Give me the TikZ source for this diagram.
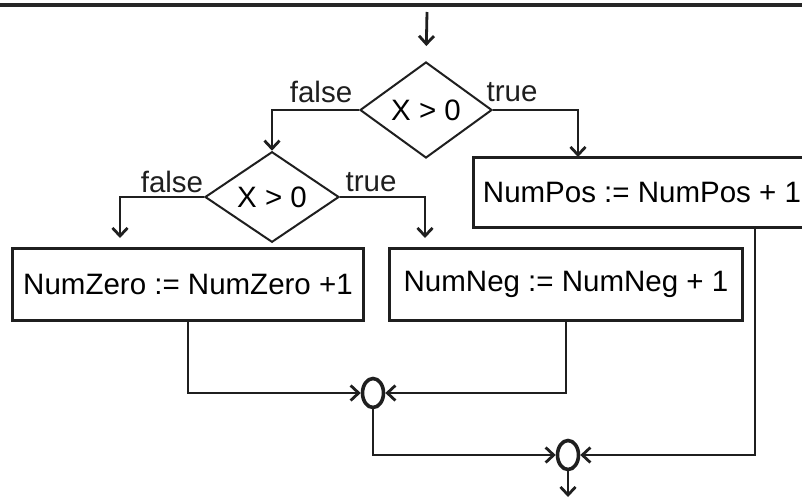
\documentclass[tikz,border=0pt]{standalone}
\usepackage{fontspec}
\setmainfont{Liberation Sans}
\usetikzlibrary{arrows.meta,shapes.geometric}
\begin{document}
\begin{tikzpicture}[x=1pt,y=-1pt,
  ink/.style={draw=black!88},
  label font/.style={font=\fontsize{29.5}{32}\selectfont},
  procbox/.style={ink,rectangle,line width=3pt,inner sep=0pt,label font},
  test/.style={ink,diamond,line width=2pt,inner sep=0pt,label font},
  junction/.style={ink,ellipse,line width=3.6pt,minimum width=21pt,minimum height=29pt,inner sep=0pt},
  branch/.style={label font,inner sep=0pt,text=black!88},
  flow/.style={ink,line width=2.8pt,-{Straight Barb[length=8pt,width=15pt,line width=2.8pt]}},
  wire/.style={ink,line width=2.8pt}]
\clip (0,0) rectangle (802,503);
\fill[white] (0,0) rectangle (802,503);

% rule across the top
\draw[black!85,line width=4.5pt] (0,5) -- (802,5);

% decisions
\node[test,minimum width=132pt,minimum height=96pt] (d1) at (426,110) {X > 0};
\node[test,minimum width=134pt,minimum height=78pt] (d2) at (272,197) {X > 0};

% assignments
\node[procbox,minimum width=338pt,minimum height=70pt] (pos) at (642,192) {NumPos := NumPos + 1};
\node[procbox,minimum width=351pt,minimum height=72pt] (zero) at (188,284) {NumZero := NumZero +1};
\node[procbox,minimum width=353pt,minimum height=72pt] (neg) at (566,284) {NumNeg := NumNeg + 1};

% merge points
\node[junction] (j1) at (373,393) {};
\node[junction] (j2) at (568,455) {};

% branch labels
\node[branch] (f1) at (321,92) {false};
\node[branch] (t1) at (512,92) {true};
\node[branch] (f2) at (172,182) {false};
\node[branch] (t2) at (371,182) {true};

% free ends
\coordinate (entry) at (427,12);
\coordinate (posin) at (578,157);
\coordinate (zeroin) at (120,248);
\coordinate (negin) at (425,248);
\coordinate (posout) at (755,227);
\coordinate (exit) at (568,497);

% connectors
\draw[flow,shorten >=15pt] (entry) -- (d1.north);
\draw[flow] (d1.west) -| (d2.north);
\draw[flow] (d1.east) -| (posin);
\draw[flow,shorten >=10pt] (d2.west) -| (zeroin);
\draw[flow,shorten >=10pt] (d2.east) -| (negin);
\draw[flow] (zero.south) |- (j1.west);
\draw[flow] (neg.south) |- (j1.east);
\draw[flow] (j1.south) |- (j2.west);
\draw[flow] (posout) |- (j2.east);
\draw[flow] (j2.south) -- (exit);
\end{tikzpicture}
\end{document}
